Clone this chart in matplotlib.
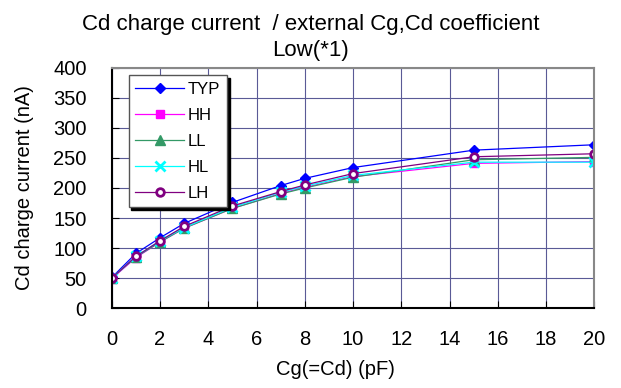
import matplotlib.pyplot as plt

plt.rcParams['font.family'] = ['Liberation Sans', 'DejaVu Sans']

# capacitance values (pF)
cg = [0, 1, 2, 3, 5, 7, 8, 10, 15, 20]

# charge current (nA) per corner
typ = [51, 91, 117, 141, 176, 204, 216, 234, 263, 272]
hh = [49, 84, 110, 133, 166, 191, 201, 219, 241, 244]
ll = [50, 85, 110, 133, 166, 190, 200, 218, 247, 251]
hl = [50, 86, 112, 134, 168, 193, 203, 221, 243, 243]
lh = [50, 86, 112, 136, 170, 194, 205, 224, 252, 257]

series = [
    ('TYP', typ, '#0000ff', 'D', dict(markersize=5.5)),
    ('HH', hh, '#ff00ff', 's', dict(markersize=5.5)),
    ('LL', ll, '#339966', '^', dict(markersize=6.5)),
    ('HL', hl, '#00ffff', 'x', dict(markersize=6.5, markeredgewidth=2)),
    ('LH', lh, '#800080', 'o', dict(markersize=5.5, markerfacecolor='white', markeredgewidth=2)),
]

fig = plt.figure(figsize=(6.21, 3.88), dpi=100)
ax = fig.add_axes([0.180, 0.206, 0.777, 0.619])

for name, vals, col, mk, kw in series:
    ax.plot(cg, vals, color=col, marker=mk, linewidth=0.9, label=name, **kw)

ax.set_xlim(0, 20)
ax.set_ylim(0, 400)
ax.set_xticks(range(0, 21, 2))
ax.set_yticks(range(0, 401, 50))
ax.grid(True, color='#5a5a96', linewidth=0.8)
ax.set_axisbelow(True)
ax.tick_params(direction='in', length=5, labelsize=14.5, pad=16)
ax.tick_params(axis='y', pad=18)
for s in ['left', 'bottom']:
    ax.spines[s].set_color('black')
    ax.spines[s].set_linewidth(1.5)
for s in ['top', 'right']:
    ax.spines[s].set_color('#888888')
    ax.spines[s].set_linewidth(1.5)

ax.set_xlabel('Cg(=Cd) (pF)', fontsize=14.5, labelpad=8, x=0.463)
ax.set_ylabel('Cd charge current (nA)', fontsize=14.5, labelpad=14)
fig.text(0.5, 0.842, 'Cd charge current  / external Cg,Cd coefficient\nLow(*1)',
         ha='center', va='bottom', fontsize=16, linespacing=1.33, multialignment='center')

leg = ax.legend(loc='upper left', bbox_to_anchor=(0.035, 0.97), borderaxespad=0, fontsize=12,
                fancybox=False, framealpha=1, edgecolor='#555555',
                shadow={'color': 'black', 'alpha': 1},
                handlelength=2.9, handletextpad=0.25, labelspacing=0.66, borderpad=0.4)
leg.get_frame().set_linewidth(1)

fig.savefig('out.png', dpi=100)
